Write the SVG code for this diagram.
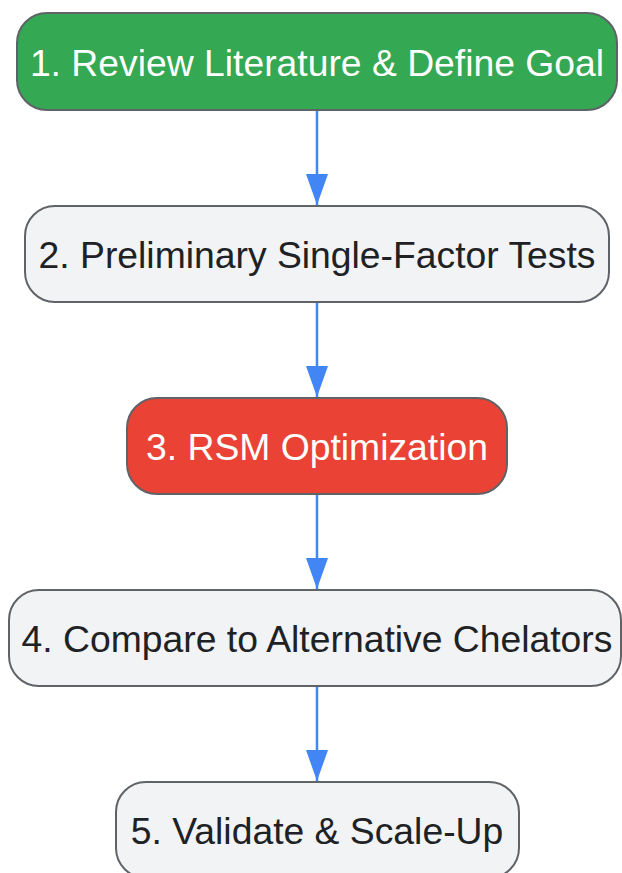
<svg xmlns="http://www.w3.org/2000/svg" width="622" height="873" viewBox="0 0 622 873">
<style>
.n{stroke:#5f6368;stroke-width:2}
.g{fill:#f1f3f4}
.t{font-family:"Liberation Sans",Arial,sans-serif;font-size:37.3px;text-anchor:middle}
.d{fill:#202124}
.w{fill:#ffffff}
.e{stroke:#4285f4;stroke-width:2.5;fill:none}
</style>
<defs>
<marker id="ah" markerWidth="31" markerHeight="22" refX="31" refY="11" orient="auto" markerUnits="userSpaceOnUse" viewBox="0 0 31 22">
<path d="M0,0 L31,11 L0,22 Z" fill="#4285f4"/>
</marker>
</defs>
<rect width="622" height="873" fill="#ffffff"/>
<g id="edges">
<line class="e" x1="317" y1="111" x2="317" y2="205" marker-end="url(#ah)"/>
<line class="e" x1="317" y1="303" x2="317" y2="397" marker-end="url(#ah)"/>
<line class="e" x1="317" y1="495" x2="317" y2="589" marker-end="url(#ah)"/>
<line class="e" x1="317" y1="687" x2="317" y2="781" marker-end="url(#ah)"/>
</g>
<g id="n1"><rect class="n" x="17" y="13" width="600" height="97" rx="30" fill="#34a853"/><text class="t w" x="317" y="76">1. Review Literature &amp; Define Goal</text></g>
<g id="n2"><rect class="n g" x="25" y="206" width="584" height="96" rx="30"/><text class="t d" x="317" y="268">2. Preliminary Single-Factor Tests</text></g>
<g id="n3"><rect class="n" x="127" y="398" width="380" height="96" rx="30" fill="#ea4335"/><text class="t w" x="317" y="460">3. RSM Optimization</text></g>
<g id="n4"><rect class="n g" x="9" y="590" width="612" height="96" rx="30"/><text class="t d" x="317" y="652">4. Compare to Alternative Chelators</text></g>
<g id="n5"><rect class="n g" x="116" y="782" width="403" height="96" rx="30"/><text class="t d" x="317" y="844">5. Validate &amp; Scale-Up</text></g>
</svg>
